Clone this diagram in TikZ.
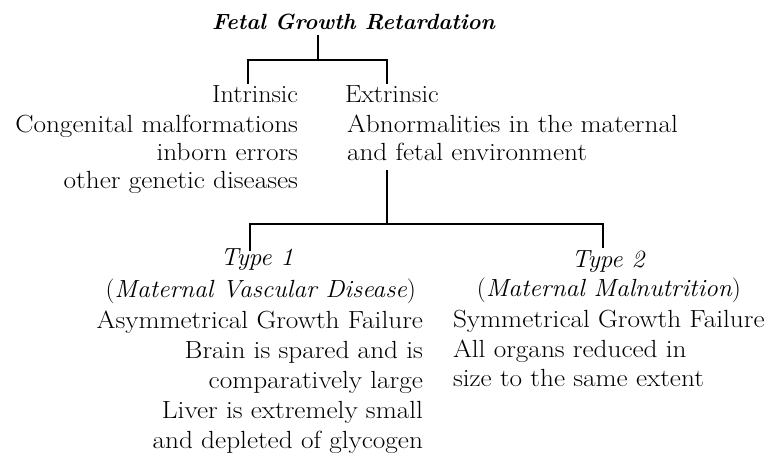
\documentclass[tikz,border=0pt]{standalone}
\newcommand\widetxt[1]{\scalebox{1.1}[1]{#1}}
\newcommand\wideital[1]{\scalebox{1.03}[1]{#1}}
\begin{document}
\begin{tikzpicture}[x=1pt,y=-1pt,
  every node/.style={inner sep=0pt, outer sep=0pt},
  txt/.style={font=\fontsize{24.8}{30}\selectfont},
  ital/.style={font=\fontsize{24.8}{30}\selectfont\itshape},
  ttl/.style={font=\fontsize{22}{26}\selectfont\bfseries\itshape},
  lnk/.style={line width=1.5pt},
  lcol/.style={txt, anchor=base east},
  rcol/.style={txt, anchor=base west}]
\useasboundingbox (0,0) rectangle (772,456);
% title
\node[ttl, anchor=base] (title) at (353.5,29) {Fetal Growth Retardation};
% first level
\node[lcol] (intr) at (298,102) {\scalebox{1.05}[1]{Intrinsic}};
\node[rcol] (extr) at (345,102) {\scalebox{1.05}[1]{Extrinsic}};
\node[lcol] (i1) at (298,132) {\widetxt{Congenital malformations}};
\node[lcol] (i2) at (298,160) {\widetxt{inborn errors}};
\node[lcol] (i3) at (298,188) {\widetxt{other genetic diseases}};
\node[rcol] (e1) at (347,132) {\widetxt{Abnormalities in the maternal}};
\node[rcol] (e2) at (347,160) {\widetxt{and fetal environment}};
% second level
\node[ital, anchor=base] (t1) at (257,265) {\wideital{Type 1}};
\node[ital, anchor=base east] (t1b) at (416,297) {\wideital{\upshape(\itshape Maternal Vascular Disease\upshape)}};
\node[lcol] (a1) at (423,328) {\widetxt{Asymmetrical Growth Failure}};
\node[lcol] (a2) at (423,358) {\widetxt{Brain is spared and is}};
\node[lcol] (a3) at (423,388) {\widetxt{comparatively large}};
\node[lcol] (a4) at (423,418) {\widetxt{Liver is extremely small}};
\node[lcol] (a5) at (423,448) {\widetxt{and depleted of glycogen}};
\node[ital, anchor=base] (t2) at (608,267) {\wideital{Type 2}};
\node[ital, anchor=base] (t2b) at (609,296) {\wideital{\upshape(\itshape Maternal Malnutrition\upshape)}};
\node[rcol] (s1) at (453,327) {\widetxt{Symmetrical Growth Failure}};
\node[rcol] (s2) at (453,357) {\widetxt{All organs reduced in}};
\node[rcol] (s3) at (453,386) {\widetxt{size to the same extent}};
% connectors
\coordinate (tdrop) at (318,35);
\coordinate (ja) at (318,60);
\coordinate (ia) at (248,84);
\coordinate (ea) at (387,84);
\draw[lnk] (tdrop) -- (ja);
\draw[lnk] (ia) |- (ja) -| (ea);
\coordinate (xdrop) at (387,170);
\coordinate (jb) at (387,224);
\coordinate (ta) at (250,251);
\coordinate (tb) at (603,248);
\draw[lnk] (xdrop) -- (jb);
\draw[lnk] (ta) |- (jb) -| (tb);
\end{tikzpicture}
\end{document}
